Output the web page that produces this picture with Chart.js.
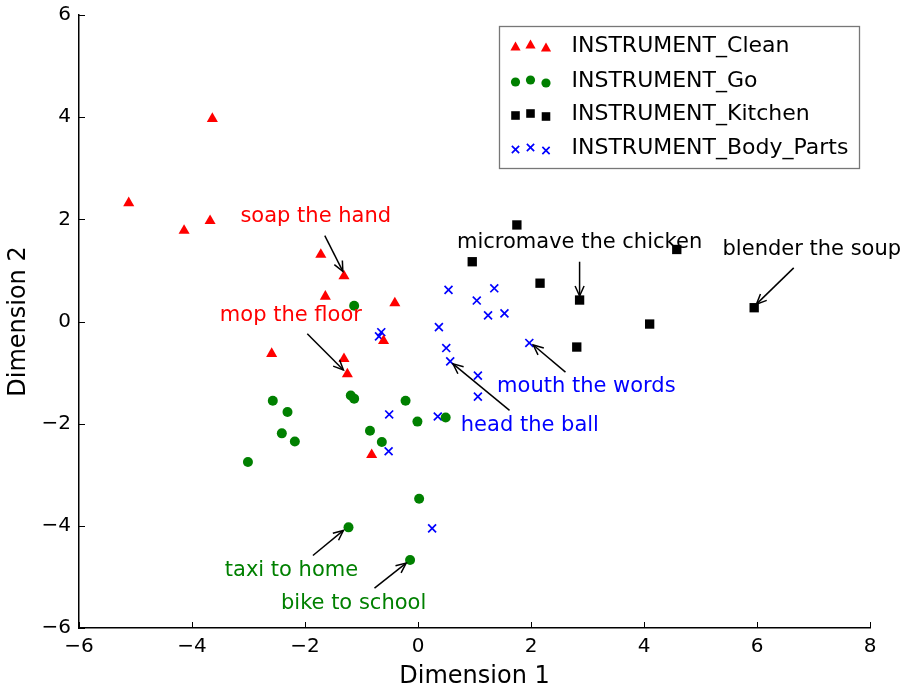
<!DOCTYPE html>
<html>
<head>
<meta charset="utf-8">
<script src="https://cdn.jsdelivr.net/npm/chart.js@4"></script>
<style>
  body { margin: 0; background: #fff; }
  #wrap { width: 903px; height: 691px; }
</style>
</head>
<body>
<div id="wrap"><canvas id="myChart" width="903" height="691"></canvas></div>
<script>
// Values (Dimension 1 / Dimension 2)
const cleanX = [-3.64, -5.12, -3.68, -4.14, -1.72, -1.31, -1.64, -0.41, -2.59, -0.61, -1.31, -1.25, -0.82];
const cleanY = [3.97, 2.32, 1.97, 1.78, 1.31, 0.89, 0.49, 0.36, -0.63, -0.38, -0.73, -1.03, -2.61];

const goX = [-1.13, -2.57, -2.31, -2.41, -2.18, -3.01, -1.19, -1.13, -0.22, -0.01, 0.49, -0.85, -0.64, 0.02, -1.23, -0.14];
const goY = [0.31, -1.55, -1.77, -2.19, -2.35, -2.75, -1.45, -1.51, -1.55, -1.96, -1.88, -2.14, -2.36, -3.47, -4.03, -4.67];

const kitchenX = [1.75, 0.96, 4.58, 2.16, 2.86, 5.95, 4.10, 2.81];
const kitchenY = [1.89, 1.17, 1.41, 0.75, 0.42, 0.27, -0.05, -0.50];

const bodyX = [0.54, 1.35, 1.04, 1.53, 1.24, 0.37, 1.97, 0.50, 0.57, 1.06, 1.06, 0.35, -0.65, -0.69, -0.51, -0.52, 0.25];
const bodyY = [0.62, 0.65, 0.41, 0.16, 0.12, -0.11, -0.42, -0.52, -0.78, -1.06, -1.47, -1.86, -0.21, -0.29, -1.82, -2.54, -4.05];

const xTicks = [-6, -4, -2, 0, 2, 4, 6, 8];
const yTicks = [-6, -4, -2, 0, 2, 4, 6];

// annotation labels: text position, arrow tail and arrow head in data units
const notes = [
  { text: 'soap the hand', color: '#ff0000', tx: -1.81, ty: 2.05, ax: -1.65, ay: 1.68, hx: -1.33, hy: 0.98 },
  { text: 'mop the floor', color: '#ff0000', tx: -2.25, ty: 0.11, ax: -1.96, ay: -0.24, hx: -1.32, hy: -0.95 },
  { text: 'micromave the chicken', color: '#000000', tx: 2.86, ty: 1.55, ax: 2.86, ay: 1.17, hx: 2.86, hy: 0.50 },
  { text: 'blender the soup', color: '#000000', tx: 6.97, ty: 1.40, ax: 6.65, ay: 1.05, hx: 5.99, hy: 0.34 },
  { text: 'mouth the words', color: '#0000ff', tx: 2.98, ty: -1.27, ax: 2.61, ay: -0.99, hx: 2.04, hy: -0.46 },
  { text: 'head the ball', color: '#0000ff', tx: 1.98, ty: -2.03, ax: 1.62, ay: -1.74, hx: 0.62, hy: -0.83 },
  { text: 'taxi to home', color: '#008000', tx: -2.24, ty: -4.88, ax: -1.86, ay: -4.58, hx: -1.32, hy: -4.09 },
  { text: 'bike to school', color: '#008000', tx: -1.14, ty: -5.53, ax: -0.77, ay: -5.22, hx: -0.21, hy: -4.73 }
];

const FONT = '"DejaVu Sans", "Liberation Sans", sans-serif';

function toPoints(xs, ys) {
  return xs.map((x, i) => ({ x: x, y: ys[i] }));
}

const datasets = [
  { label: 'INSTRUMENT_Clean', data: toPoints(cleanX, cleanY), pointStyle: 'triangle', pointRadius: 6.4,
    backgroundColor: '#ff0000', borderColor: '#ff0000', borderWidth: 0 },
  { label: 'INSTRUMENT_Go', data: toPoints(goX, goY), pointStyle: 'circle', pointRadius: 5,
    backgroundColor: '#008000', borderColor: '#008000', borderWidth: 0 },
  { label: 'INSTRUMENT_Kitchen', data: toPoints(kitchenX, kitchenY), pointStyle: 'rect', pointRadius: 6.6,
    backgroundColor: '#000000', borderColor: '#000000', borderWidth: 0 },
  { label: 'INSTRUMENT_Body_Parts', data: toPoints(bodyX, bodyY), pointStyle: 'crossRot', pointRadius: 5.6,
    backgroundColor: '#0000ff', borderColor: '#0000ff', borderWidth: 1.7 }
];
datasets.forEach(d => { d.pointHoverRadius = d.pointRadius; });

function minus(v) {
  return String(v).replace('-', '\u2212');
}

function drawArrow(ctx, x0, y0, x1, y1) {
  const ang = Math.atan2(y1 - y0, x1 - x0);
  const len = 10, half = 4.5;
  ctx.beginPath();
  ctx.moveTo(x0, y0);
  ctx.lineTo(x1, y1);
  ctx.stroke();
  const bx = x1 - Math.cos(ang) * len, by = y1 - Math.sin(ang) * len;
  const nx = -Math.sin(ang) * half, ny = Math.cos(ang) * half;
  ctx.beginPath();
  ctx.moveTo(bx + nx, by + ny);
  ctx.lineTo(x1, y1);
  ctx.lineTo(bx - nx, by - ny);
  ctx.stroke();
}

// inward ticks, arrows + labels, and a matplotlib-like legend with three markers
const extras = {
  id: 'extras',
  afterDraw(chart) {
    const ctx = chart.ctx;
    const xs = chart.scales.x, ys = chart.scales.y;
    const area = chart.chartArea;
    ctx.save();

    ctx.strokeStyle = '#000';
    ctx.lineWidth = 1;
    xTicks.forEach(v => {
      const px = Math.round(xs.getPixelForValue(v)) + 0.5;
      ctx.beginPath();
      ctx.moveTo(px, area.bottom);
      ctx.lineTo(px, area.bottom - 6);
      ctx.stroke();
    });
    yTicks.forEach(v => {
      const py = Math.round(ys.getPixelForValue(v)) + 0.5;
      ctx.beginPath();
      ctx.moveTo(area.left, py);
      ctx.lineTo(area.left + 6, py);
      ctx.stroke();
    });

    ctx.font = '21px ' + FONT;
    ctx.textAlign = 'center';
    ctx.textBaseline = 'middle';
    notes.forEach(n => {
      ctx.strokeStyle = '#000';
      ctx.lineWidth = 1.5;
      drawArrow(ctx, xs.getPixelForValue(n.ax), ys.getPixelForValue(n.ay),
                xs.getPixelForValue(n.hx), ys.getPixelForValue(n.hy));
      ctx.fillStyle = n.color;
      ctx.fillText(n.text, xs.getPixelForValue(n.tx), ys.getPixelForValue(n.ty));
    });

    // legend box
    const lx = 499.5, ly = 26.5, lw = 360, lh = 142;
    ctx.fillStyle = '#fff';
    ctx.fillRect(lx, ly, lw, lh);
    ctx.strokeStyle = '#777';
    ctx.lineWidth = 1.3;
    ctx.strokeRect(lx, ly, lw, lh);
    const rowY = [45.5, 80, 113.5, 147.5];
    const mx = [515.5, 530.5, 546];
    const dy = [2, 0, 3];
    ctx.font = '22px ' + FONT;
    ctx.textAlign = 'left';
    ctx.textBaseline = 'middle';
    chart.data.datasets.forEach((d, i) => {
      mx.forEach((x, k) => {
        ctx.fillStyle = d.backgroundColor;
        ctx.strokeStyle = d.borderColor;
        ctx.lineWidth = d.borderWidth || 1;
        Chart.helpers.drawPoint(ctx, {
          pointStyle: d.pointStyle, radius: d.pointRadius * 0.92, rotation: 0,
          borderWidth: d.borderWidth
        }, x, rowY[i] + dy[k]);
      });
      ctx.fillStyle = '#000';
      ctx.fillText(d.label, 571.5, rowY[i] + 1);
    });
    ctx.restore();
  }
};

const ctx = document.getElementById('myChart').getContext('2d');
const myChart = new Chart(ctx, {
  type: 'scatter',
  data: { datasets: datasets },
  options: {
    responsive: false,
    animation: false,
    events: [],
    layout: { padding: { left: 0, top: 15, right: 33, bottom: 0 } },
    plugins: {
      legend: { display: false },
      tooltip: { enabled: false }
    },
    scales: {
      x: {
        type: 'linear',
        min: -6, max: 8,
        afterBuildTicks: s => { s.ticks = xTicks.map(v => ({ value: v })); },
        afterFit: s => { s.height = 63; s.paddingLeft = 0; s.paddingRight = 0; },
        grid: { drawOnChartArea: false, drawTicks: false },
        border: { display: true, color: '#000', width: 1.5 },
        ticks: { color: '#000', padding: 7, font: { family: FONT, size: 20 }, callback: v => minus(v) },
        title: { display: true, text: 'Dimension 1', color: '#000', padding: { top: 0, bottom: 0 },
                 font: { family: FONT, size: 24 } }
      },
      y: {
        type: 'linear',
        min: -6, max: 6,
        afterBuildTicks: s => { s.ticks = yTicks.map(v => ({ value: v })); },
        afterFit: s => { s.width = 79; s.paddingTop = 0; s.paddingBottom = 0; },
        grid: { drawOnChartArea: false, drawTicks: false },
        border: { display: true, color: '#000', width: 1.5 },
        ticks: { color: '#000', padding: 8, font: { family: FONT, size: 20 }, callback: v => minus(v) },
        title: { display: true, text: 'Dimension 2', color: '#000', padding: { top: 4, bottom: 0 },
                 font: { family: FONT, size: 24 } }
      }
    }
  },
  plugins: [extras]
});
</script>
</body>
</html>
